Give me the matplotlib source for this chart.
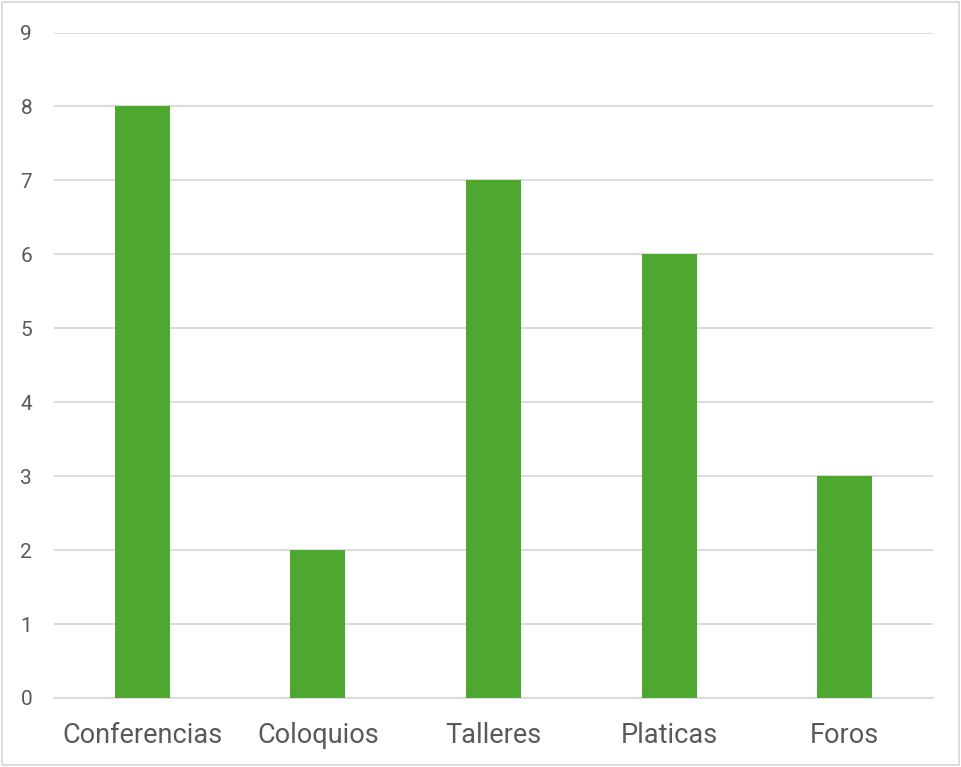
import matplotlib
matplotlib.use("Agg")
import matplotlib.pyplot as plt
from matplotlib.patches import Rectangle

categories = ["Conferencias", "Coloquios", "Talleres", "Platicas", "Foros"]
values = [8, 2, 7, 6, 3]
y_ticks = [0, 1, 2, 3, 4, 5, 6, 7, 8, 9]

bar_color = "#4EA72E"
grid_color = "#D9D9D9"
text_color = "#595959"

plt.rcParams["font.family"] = ["Roboto", "DejaVu Sans"]

fig = plt.figure(figsize=(9.61, 7.67), dpi=100)
ax = fig.add_axes([0.0565, 0.09, 0.914, 0.8676])

x = list(range(len(categories)))
ax.bar(x, values, width=0.313, color=bar_color, zorder=3)

ax.set_xlim(-0.5, len(categories) - 0.5)
ax.set_ylim(0, 9)
ax.set_yticks(y_ticks)
ax.set_xticks(x)
ax.set_xticklabels(categories)

ax.yaxis.grid(True, color=grid_color, linewidth=1.3, zorder=0)
ax.set_axisbelow(True)
for side in ["top", "right", "left"]:
    ax.spines[side].set_visible(False)
ax.spines["bottom"].set_color(grid_color)
ax.spines["bottom"].set_linewidth(1.3)

ax.tick_params(axis="both", length=0, colors=text_color)
ax.tick_params(axis="y", pad=16, labelsize=15)
ax.tick_params(axis="x", pad=17, labelsize=19.5)

fig.add_artist(Rectangle((0.002, 0.002), 0.996, 0.996, transform=fig.transFigure,
                         fill=False, edgecolor="#D9D9D9", linewidth=1.3))

fig.savefig("out.png", dpi=100, facecolor="white")
